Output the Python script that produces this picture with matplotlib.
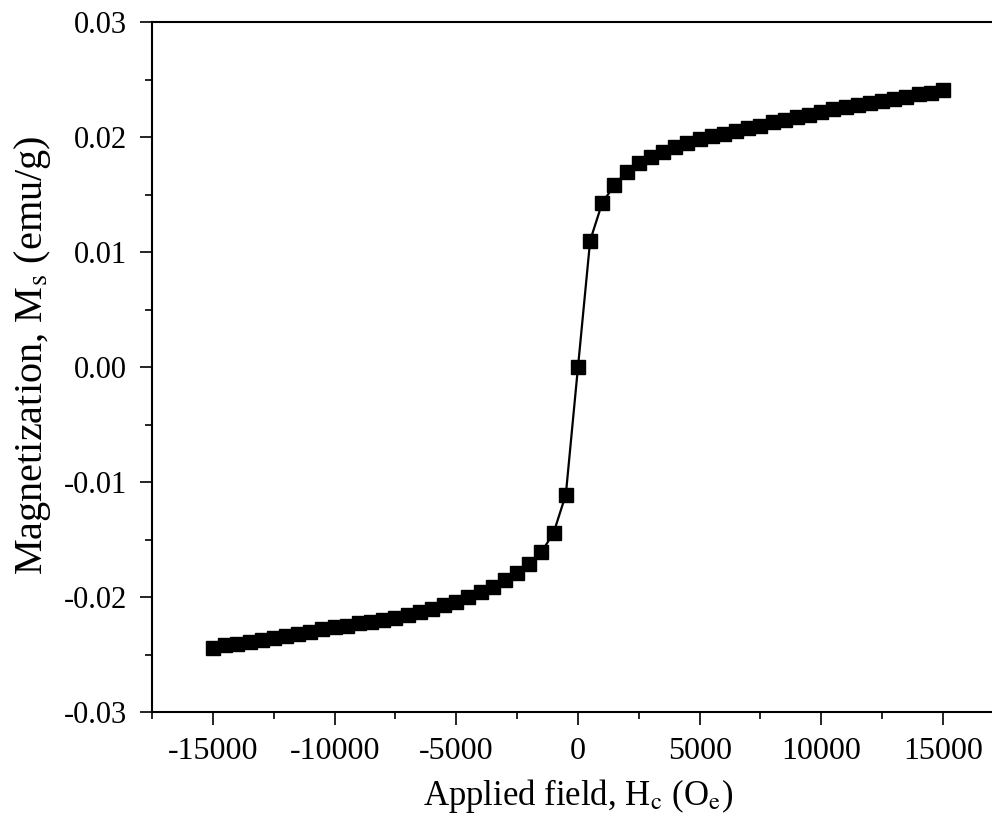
import matplotlib
matplotlib.use('Agg')
from matplotlib import pyplot as plt
from matplotlib.ticker import MultipleLocator, FormatStrFormatter

# field values (Oe) and magnetization (emu/g)
field = [-15000, -14500, -14000, -13500, -13000, -12500, -12000, -11500, -11000, -10500,
         -10000, -9500, -9000, -8500, -8000, -7500, -7000, -6500, -6000, -5500,
         -5000, -4500, -4000, -3500, -3000, -2500, -2000, -1500, -1000, -500,
         0, 500, 1000, 1500, 2000, 2500, 3000, 3500, 4000, 4500,
         5000, 5500, 6000, 6500, 7000, 7500, 8000, 8500, 9000, 9500,
         10000, 10500, 11000, 11500, 12000, 12500, 13000, 13500, 14000, 14500, 15000]
magn = [-0.0244, -0.0242, -0.0241, -0.0239, -0.0237, -0.0236, -0.0234, -0.0232, -0.0230, -0.0228,
        -0.0226, -0.0225, -0.0223, -0.0222, -0.0220, -0.0218, -0.0216, -0.0213, -0.0210, -0.0207,
        -0.0204, -0.0200, -0.0196, -0.0191, -0.0185, -0.0179, -0.0171, -0.0161, -0.0144, -0.0111,
        0.0000, 0.0110, 0.0143, 0.0158, 0.0170, 0.0177, 0.0183, 0.0187, 0.0191, 0.0195,
        0.0198, 0.0201, 0.0203, 0.0205, 0.0208, 0.0210, 0.0213, 0.0215, 0.0217, 0.0219,
        0.0222, 0.0224, 0.0226, 0.0228, 0.0230, 0.0231, 0.0233, 0.0235, 0.0237, 0.0238, 0.0241]

plt.rcParams['font.family'] = ['Liberation Serif', 'DejaVu Serif']
plt.rcParams['mathtext.fontset'] = 'stix'
plt.rcParams['axes.unicode_minus'] = False

fig = plt.figure(figsize=(9.92, 8.31), dpi=100)
ax = fig.add_axes([0.1534, 0.1432, 0.8585, 0.8303])

ax.plot(field, magn, color='black', lw=1.6, marker='s', markersize=10,
        markerfacecolor='black', markeredgecolor='black')

ax.set_xlim(-17500, 17500)
ax.set_ylim(-0.03, 0.03)
ax.xaxis.set_major_locator(MultipleLocator(5000))
ax.xaxis.set_minor_locator(MultipleLocator(2500))
ax.yaxis.set_major_locator(MultipleLocator(0.01))
ax.yaxis.set_minor_locator(MultipleLocator(0.005))
ax.yaxis.set_major_formatter(FormatStrFormatter('%.2f'))

for s in ax.spines.values():
    s.set_linewidth(1.5)
ax.tick_params(which='major', direction='out', length=9, width=1.2, pad=9)
ax.tick_params(which='minor', direction='out', length=5, width=1.2)
ax.tick_params(axis='x', labelsize=23)
ax.tick_params(axis='y', labelsize=22)

ax.set_xlabel('Applied field, H$_\\mathrm{c}$ (O$_\\mathrm{e}$)', fontsize=25, labelpad=8)
ax.set_ylabel('Magnetization, M$_\\mathrm{s}$ (emu/g)', fontsize=29)
ax.yaxis.set_label_coords(-0.117, 0.517)

fig.savefig('out.png', dpi=100)
